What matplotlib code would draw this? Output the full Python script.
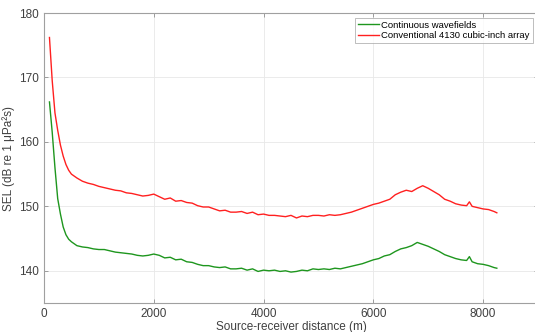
import matplotlib
matplotlib.use("Agg")
import matplotlib.pyplot as plt

distance = [100, 150, 200, 250, 300, 350, 400, 450, 500, 600, 700, 800, 900, 1000,
            1100, 1200, 1300, 1400, 1500, 1600, 1700, 1800, 1900, 2000, 2100, 2200,
            2300, 2400, 2500, 2600, 2700, 2800, 2900, 3000, 3100, 3200, 3300, 3400,
            3500, 3600, 3700, 3800, 3900, 4000, 4100, 4200, 4300, 4400, 4500, 4600,
            4700, 4800, 4900, 5000, 5100, 5200, 5300, 5400, 5500, 5600, 5700, 5800,
            5900, 6000, 6100, 6200, 6300, 6400, 6500, 6600, 6700, 6800, 6900, 7000,
            7100, 7200, 7300, 7400, 7500, 7600, 7700, 7750, 7800, 7900, 8000, 8100,
            8200, 8250]

sel_conventional = [176.2, 169.5, 164.5, 161.8, 159.5, 157.8, 156.5, 155.6, 155.0, 154.4,
                    153.9, 153.6, 153.4, 153.1, 152.9, 152.7, 152.5, 152.4, 152.1, 152.0,
                    151.8, 151.6, 151.7, 151.9, 151.5, 151.1, 151.3, 150.8, 150.9, 150.6,
                    150.5, 150.1, 149.9, 149.9, 149.6, 149.3, 149.4, 149.1, 149.1, 149.2,
                    148.9, 149.1, 148.7, 148.8, 148.6, 148.6, 148.5, 148.4, 148.6, 148.2,
                    148.5, 148.4, 148.6, 148.6, 148.5, 148.7, 148.6, 148.7, 148.9, 149.1,
                    149.4, 149.7, 150.0, 150.3, 150.5, 150.8, 151.1, 151.8, 152.2, 152.5,
                    152.3, 152.8, 153.2, 152.8, 152.3, 151.8, 151.1, 150.8, 150.4, 150.2,
                    150.1, 150.7, 150.0, 149.8, 149.6, 149.5, 149.2, 149.0]

sel_continuous = [166.2, 161.5, 156.0, 151.2, 148.8, 146.8, 145.6, 144.9, 144.5, 143.9,
                  143.7, 143.6, 143.4, 143.3, 143.3, 143.1, 142.9, 142.8, 142.7, 142.6,
                  142.4, 142.3, 142.4, 142.6, 142.4, 142.0, 142.1, 141.7, 141.8, 141.4,
                  141.3, 141.0, 140.8, 140.8, 140.6, 140.5, 140.6, 140.3, 140.3, 140.4,
                  140.1, 140.3, 139.9, 140.1, 140.0, 140.1, 139.9, 140.0, 139.8, 139.9,
                  140.1, 140.0, 140.3, 140.2, 140.3, 140.2, 140.4, 140.3, 140.5, 140.7,
                  140.9, 141.1, 141.4, 141.7, 141.9, 142.3, 142.5, 143.0, 143.4, 143.6,
                  143.9, 144.4, 144.1, 143.8, 143.4, 143.0, 142.5, 142.2, 141.9, 141.7,
                  141.6, 142.2, 141.4, 141.1, 141.0, 140.8, 140.5, 140.4]

labels = ["Continuous wavefields", "Conventional 4130 cubic-inch array"]
xticks = [0, 2000, 4000, 6000, 8000]
yticks = [140, 150, 160, 170, 180]

plt.rcParams['font.family'] = ['Liberation Sans', 'DejaVu Sans']
fig = plt.figure(figsize=(5.35, 3.32), dpi=100)
ax = fig.add_axes([0.0822, 0.0873, 0.9234, 0.8735])

ax.plot(distance, sel_continuous, color="#1e961e", lw=1.0, label=labels[0])
ax.plot(distance, sel_conventional, color="#ff2020", lw=1.0, label=labels[1])

ax.set_xlim(0, 9000)
ax.set_ylim(135, 180)
ax.set_xticks(xticks)
ax.set_yticks(yticks)
ax.grid(True, color="#e8e8e8", lw=0.6)
ax.set_axisbelow(True)
ax.tick_params(direction="in", length=3, width=0.6, color="#909090",
               labelcolor="#404040", labelsize=8.5, top=True, right=True)
for s in ax.spines.values():
    s.set_color("#a0a0a0")
    s.set_linewidth(0.8)

ax.set_xlabel("Source-receiver distance (m)", fontsize=8.5, color="#404040", labelpad=1)
ax.set_ylabel("SEL (dB re 1 μPa²s)", fontsize=8.5, color="#404040", labelpad=3)

leg = ax.legend(loc="upper right", bbox_to_anchor=(0.993, 0.99), fontsize=6.8,
                frameon=True, fancybox=False, handlelength=2.2, handletextpad=0.3,
                borderpad=0.3, labelspacing=0.15, borderaxespad=0.2)
leg.get_frame().set_edgecolor("#a0a0a0")
leg.get_frame().set_linewidth(0.6)

fig.savefig("out.png", dpi=100)
